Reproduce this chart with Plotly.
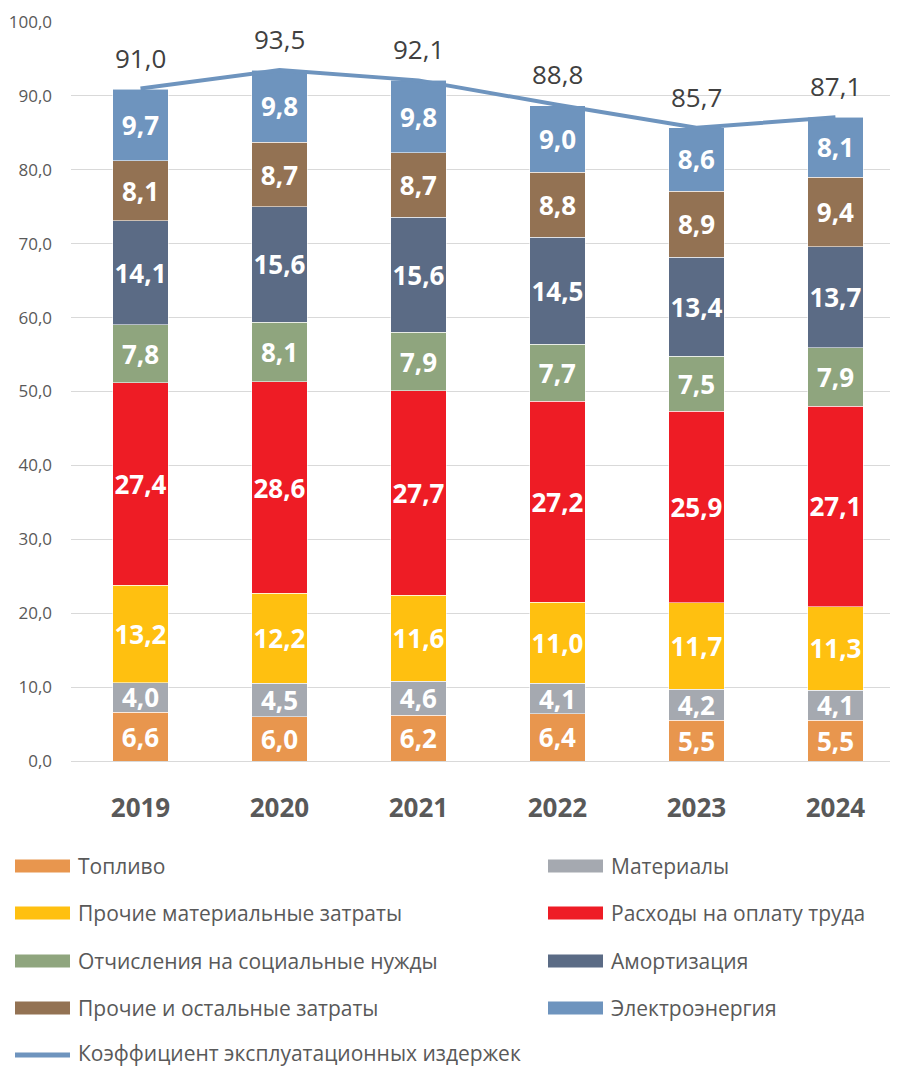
import plotly.graph_objects as go

years = ["2019", "2020", "2021", "2022", "2023", "2024"]

fuel = [6.6, 6.0, 6.2, 6.4, 5.5, 5.5]
materials = [4.0, 4.5, 4.6, 4.1, 4.2, 4.1]
other_material = [13.2, 12.2, 11.6, 11.0, 11.7, 11.3]
labour = [27.4, 28.6, 27.7, 27.2, 25.9, 27.1]
social = [7.8, 8.1, 7.9, 7.7, 7.5, 7.9]
depreciation = [14.1, 15.6, 15.6, 14.5, 13.4, 13.7]
other_costs = [8.1, 8.7, 8.7, 8.8, 8.9, 9.4]
electricity = [9.7, 9.8, 9.8, 9.0, 8.6, 8.1]
ratio = [91.0, 93.5, 92.1, 88.8, 85.7, 87.1]

series = [
    ("Топливо", fuel, "#E8964E"),
    ("Материалы", materials, "#A5A9B0"),
    ("Прочие материальные затраты", other_material, "#FFC010"),
    ("Расходы на оплату труда", labour, "#EE1C25"),
    ("Отчисления на социальные нужды", social, "#8FA57E"),
    ("Амортизация", depreciation, "#5B6B85"),
    ("Прочие и остальные затраты", other_costs, "#937253"),
    ("Электроэнергия", electricity, "#6E94BE"),
]
line_name = "Коэффициент эксплуатационных издержек"
line_color = "#6E94BE"

FONT = "Open Sans"
GREY = "#595959"

fig = go.Figure()
for name, vals, col in series:
    fig.add_trace(go.Bar(
        x=years, y=vals, name=name,
        marker=dict(color=col, line=dict(color="rgba(255,255,255,0.55)", width=1)),
        width=0.4,
        texttemplate="%{y:.1f}", textposition="inside", insidetextanchor="middle",
        textangle=0,
        textfont=dict(family=FONT, size=26, color="white", weight="bold"),
        showlegend=False, hoverinfo="skip",
    ))

fig.add_trace(go.Scatter(
    x=years, y=ratio, name=line_name, mode="lines",
    line=dict(color=line_color, width=4), showlegend=False,
))

for i, v in enumerate(ratio):
    fig.add_annotation(x=i, y=v, xref="x", yref="y", text=f"{v:.1f}".replace(".", ","),
                       showarrow=False, yshift=31,
                       font=dict(family=FONT, size=26, color="#404040"))

# page has an 8px body margin; work in page pixels and convert
OFF = 8
W, H = 898 - OFF, 1066 - OFF
top, bottom_px, left = 22 - OFF, 761 - OFF, 71 - OFF
plot_h = bottom_px - top
plot_w = W - left


def py(pix):
    return (bottom_px - (pix - OFF)) / plot_h


def px(pix):
    return ((pix - OFF) - left) / plot_w


# custom legend
rows = [866, 913, 961, 1008]
cols = [(15, 70, 76), (548, 603, 609)]
LEG_SIZE = 21
for i, (name, vals, col) in enumerate(series):
    r = rows[i // 2]
    x0, x1, xt = cols[i % 2]
    fig.add_shape(type="rect", xref="paper", yref="paper",
                  x0=px(x0), x1=px(x1), y0=py(r + 6.5), y1=py(r - 6.5),
                  fillcolor=col, line=dict(width=0))
    fig.add_annotation(xref="paper", yref="paper", x=px(xt), y=py(r), text=name,
                       showarrow=False, xanchor="left", yanchor="middle",
                       font=dict(family=FONT, size=LEG_SIZE, color=GREY))
fig.add_shape(type="line", xref="paper", yref="paper",
              x0=px(15), x1=px(70), y0=py(1055), y1=py(1055),
              line=dict(color=line_color, width=5))
fig.add_annotation(xref="paper", yref="paper", x=px(76), y=py(1053), text=line_name,
                   showarrow=False, xanchor="left", yanchor="middle",
                   font=dict(family=FONT, size=LEG_SIZE, color=GREY))

fig.update_layout(
    width=W, height=H,
    barmode="stack",
    separators=", ",
    plot_bgcolor="white", paper_bgcolor="white",
    margin=dict(l=left, r=0, t=top, b=H - bottom_px),
    font=dict(family=FONT, color=GREY),
    uniformtext=dict(minsize=26, mode="show"),
    xaxis=dict(type="category", range=[-0.5, 5.45], showgrid=False, showline=True,
               linecolor="#D9D9D9", linewidth=1, automargin=False,
               tickfont=dict(family=FONT, size=26, color=GREY, weight="bold"),
               ticklabelstandoff=24, ticks=""),
    yaxis=dict(range=[0, 100], dtick=10, tickformat=".1f", showgrid=True,
               gridcolor="#D9D9D9", gridwidth=1, zeroline=False, showline=False,
               automargin=False,
               tickfont=dict(family=FONT, size=17, color=GREY), ticklabelstandoff=18),
)

fig.write_html("out.html")
